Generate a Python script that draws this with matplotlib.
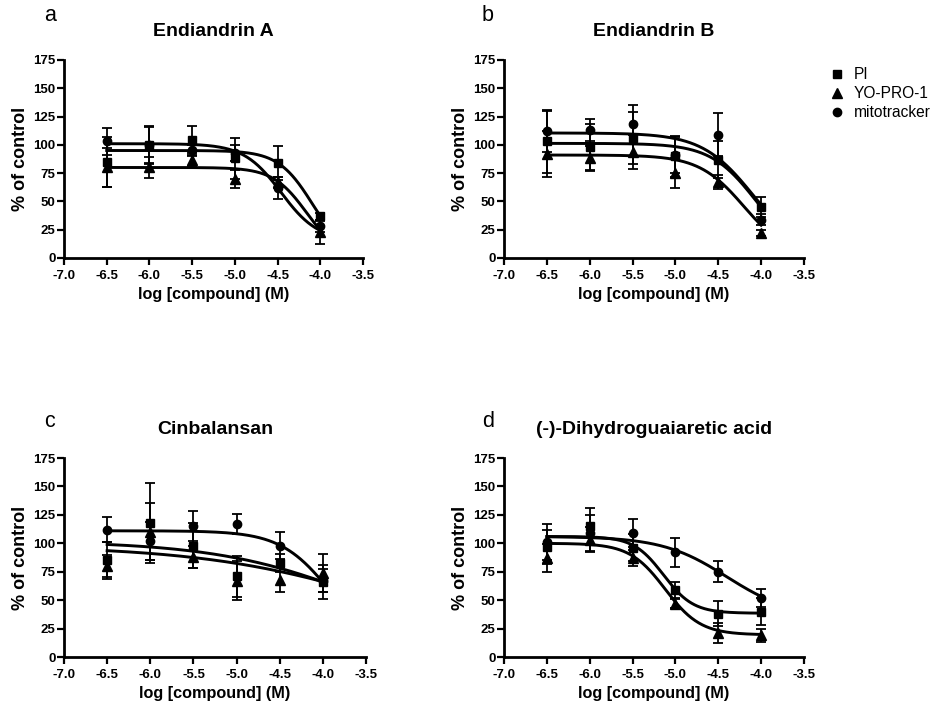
import numpy as np
import matplotlib
matplotlib.use("Agg")
import matplotlib.pyplot as plt
from matplotlib.lines import Line2D

plt.rcParams["font.family"] = ["Liberation Sans", "DejaVu Sans"]
plt.rcParams["axes.unicode_minus"] = False

log_conc = [-6.5, -6.0, -5.5, -5.0, -4.5, -4.0]
series_names = ["PI", "YO-PRO-1", "mitotracker"]

# panel a - Endiandrin A
a_pi = [85, 100, 104, 88, 84, 37]
a_pi_err = [22, 16, 13, 18, 15, 3]
a_yo = [80, 80, 87, 70, 67, 23]
a_yo_err = [17, 9, 6, 8, 5, 11]
a_mito = [103, 100, 95, 93, 62, 28]
a_mito_err = [12, 17, 5, 7, 10, 5]
# fit parameters: top, bottom, logIC50, hill slope
a_pi_fit = [95, 0, -4.09, 2.16]
a_yo_fit = [80, 0, -4.16, 2.2]
a_mito_fit = [101, 15, -4.46, 2.0]

# panel b - Endiandrin B
b_pi = [103, 98, 106, 90, 87, 45]
b_pi_err = [28, 20, 23, 18, 16, 9]
b_yo = [92, 88, 94, 75, 67, 22]
b_yo_err = [20, 11, 15, 13, 6, 3]
b_mito = [112, 113, 118, 91, 109, 34]
b_mito_err = [18, 10, 17, 16, 19, 5]
b_pi_fit = [101.3, 0, -4.06, 1.63]
b_yo_fit = [91, 0, -4.2, 1.65]
b_mito_fit = [110.5, 0, -4.09, 1.45]

# panel c - Cinbalansan
c_pi = [85, 118, 98, 71, 83, 66]
c_pi_err = [16, 35, 20, 18, 8, 15]
c_yo = [80, 110, 88, 67, 68, 74]
c_yo_err = [10, 25, 10, 17, 11, 17]
c_mito = [112, 102, 115, 117, 98, 67]
c_mito_err = [11, 17, 13, 9, 12, 10]
c_pi_fit = [102, 0, -3.47, 0.5]
c_yo_fit = [98, 0, -3.2, 0.4]
c_mito_fit = [111, 0, -3.89, 1.46]

# panel d - (-)-Dihydroguaiaretic acid
d_pi = [97, 115, 96, 59, 38, 40]
d_pi_err = [15, 16, 12, 7, 11, 12]
d_yo = [87, 103, 87, 47, 21, 19]
d_yo_err = [12, 11, 7, 4, 9, 6]
d_mito = [101, 109, 109, 92, 75, 52]
d_mito_err = [16, 16, 12, 13, 9, 8]
d_pi_fit = [106, 38.5, -5.14, 2.5]
d_yo_fit = [100, 19.5, -5.12, 2.1]
d_mito_fit = [106, 35, -4.40, 1.15]

markers = ["s", "^", "o"]
msizes = [5.5, 6.5, 6]


def logistic(x, p):
    top, bottom, logic50, hill = p
    return bottom + (top - bottom) / (1 + 10 ** ((x - logic50) * hill))


def draw_panel(ax, title, vals, errs, fits):
    xs = np.linspace(log_conc[0], log_conc[-1], 300)
    for v, e, p, m, s in zip(vals, errs, fits, markers, msizes):
        ax.plot(xs, logistic(xs, p), color="black", lw=2.1, zorder=2)
        ax.errorbar(log_conc, v, yerr=e, fmt="none", ecolor="black",
                    elinewidth=1.3, capsize=3.6, capthick=1.3, zorder=3)
        ax.plot(log_conc, v, ls="none", marker=m, ms=s, color="black", zorder=4)
    ax.set_xlim(-7.0, -3.5)
    ax.set_ylim(0, 175)
    ax.set_xticks(np.arange(-7.0, -3.49, 0.5))
    ax.set_xticklabels([f"{t:.1f}" for t in np.arange(-7.0, -3.49, 0.5)])
    ax.set_yticks(range(0, 176, 25))
    for side in ["top", "right"]:
        ax.spines[side].set_visible(False)
    for side in ["left", "bottom"]:
        ax.spines[side].set_linewidth(2.0)
    ax.tick_params(direction="out", length=5, width=1.6, labelsize=9.5)
    ax.tick_params(axis="y", pad=1)
    ax.tick_params(axis="x", pad=3.5)
    for lab in ax.get_xticklabels() + ax.get_yticklabels():
        lab.set_fontweight("bold")
    ax.set_xlabel("log [compound] (M)", fontsize=11.7, fontweight="bold", labelpad=4)
    ax.set_ylabel("% of control", fontsize=13, fontweight="bold", labelpad=3)
    ax.set_title(title, fontsize=14, fontweight="bold", pad=17)


fig = plt.figure(figsize=(9.41, 7.08), dpi=100)
ax_a = fig.add_axes([0.068, 0.6356, 0.3178, 0.2797])
ax_b = fig.add_axes([0.5356, 0.6356, 0.3188, 0.2797])
ax_c = fig.add_axes([0.068, 0.072, 0.3210, 0.2811])
ax_d = fig.add_axes([0.5356, 0.072, 0.3188, 0.2811])

draw_panel(ax_a, "Endiandrin A", [a_pi, a_yo, a_mito],
           [a_pi_err, a_yo_err, a_mito_err], [a_pi_fit, a_yo_fit, a_mito_fit])
draw_panel(ax_b, "Endiandrin B", [b_pi, b_yo, b_mito],
           [b_pi_err, b_yo_err, b_mito_err], [b_pi_fit, b_yo_fit, b_mito_fit])
draw_panel(ax_c, "Cinbalansan", [c_pi, c_yo, c_mito],
           [c_pi_err, c_yo_err, c_mito_err], [c_pi_fit, c_yo_fit, c_mito_fit])
draw_panel(ax_d, "(-)-Dihydroguaiaretic acid", [d_pi, d_yo, d_mito],
           [d_pi_err, d_yo_err, d_mito_err], [d_pi_fit, d_yo_fit, d_mito_fit])

# panel letters
fig.text(44 / 941, 1 - 21 / 708, "a", fontsize=15.5, va="baseline")
fig.text(482 / 941, 1 - 21 / 708, "b", fontsize=15.5, va="baseline")
fig.text(44 / 941, 1 - 427 / 708, "c", fontsize=15.5, va="baseline")
fig.text(482 / 941, 1 - 427 / 708, "d", fontsize=15.5, va="baseline")

handles = [Line2D([], [], ls="none", marker=m, ms=s, color="black")
           for m, s in zip(markers, msizes)]
fig.legend(handles, series_names, loc="upper left", bbox_to_anchor=(0.876, 0.9115),
           frameon=False, fontsize=11.2, handlelength=1.0, handletextpad=0.6,
           labelspacing=0.25, borderaxespad=0.0, borderpad=0.3)

fig.savefig("out.png", dpi=100)
